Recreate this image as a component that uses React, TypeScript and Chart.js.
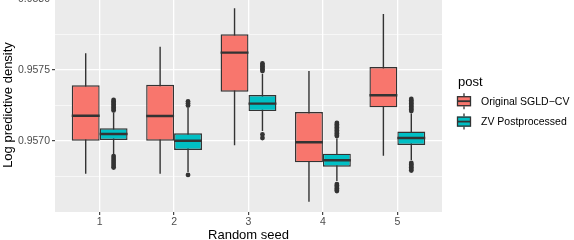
import { useEffect, useRef } from 'react';
import { Chart, registerables } from 'chart.js';

Chart.register(...registerables);

const FONT = "'Liberation Sans', Arial, Helvetica, sans-serif";

// Random seeds on the x axis
const seeds = [1, 2, 3, 4, 5];

const seriesNames = ['Original SGLD\u2212CV', 'ZV Postprocessed'];
const seriesColors = ['#F8766D', '#00BFC4'];

// Original SGLD-CV: whisker ends, quartiles and medians
const sgldLower = [0.95677, 0.95677, 0.95697, 0.956573, 0.956896];
const sgldQ1 = [0.957002, 0.957002, 0.957347, 0.95685, 0.957237];
const sgldMedian = [0.957178, 0.957176, 0.957622, 0.956991, 0.957322];
const sgldQ3 = [0.957392, 0.957396, 0.957751, 0.957204, 0.957521];
const sgldUpper = [0.957618, 0.957664, 0.957934, 0.957493, 0.957894];
const sgldOutliers: number[][] = [[], [], [], [], []];

// ZV postprocessed: whisker ends, quartiles and medians
const zvLower = [0.956901, 0.956782, 0.95707, 0.956718, 0.956866];
const zvQ1 = [0.957007, 0.956937, 0.957211, 0.956819, 0.956972];
const zvMedian = [0.957049, 0.957002, 0.957263, 0.956864, 0.957021];
const zvQ3 = [0.957089, 0.957054, 0.957324, 0.956911, 0.957067];
const zvUpper = [0.9572, 0.957232, 0.957472, 0.957018, 0.957194];
const zvOutliers: number[][] = [
  [0.957289, 0.957278, 0.957268, 0.957257, 0.957246, 0.957236, 0.957225, 0.957215,
    0.956894, 0.95688, 0.956866, 0.956852, 0.956838, 0.956824, 0.956813],
  [0.957278, 0.957264, 0.95725, 0.956761],
  [0.957546, 0.957535, 0.957525, 0.957514, 0.957504, 0.957493, 0.957046, 0.957021],
  [0.957127, 0.957116, 0.957106, 0.957095, 0.957085, 0.957074, 0.957063, 0.957053, 0.957042, 0.957035,
    0.956697, 0.956687, 0.956676, 0.956666, 0.956655, 0.956648],
  [0.957296, 0.957285, 0.957275, 0.957264, 0.957254, 0.957243, 0.957232, 0.957222, 0.957211,
    0.956845, 0.956835, 0.956824, 0.956813, 0.956803, 0.956792],
];

// Axis breaks
const yBreaks = [0.95675, 0.957, 0.95725, 0.9575, 0.95775, 0.958];
const yMajorBreaks = [0.957, 0.9575, 0.958];
const yMin = 0.9565;
const yMax = 0.958007;
const xMin = 0.4;
const xMax = 5.6;

const DODGE = 0.1875;
const HALF_BOX = 0.1875;
const OUTLINE = '#333333';

const isMajor = (v: number) => yMajorBreaks.some((m) => Math.abs(m - v) < 1e-9);

const series = [
  { name: seriesNames[0], color: seriesColors[0], lower: sgldLower, q1: sgldQ1, med: sgldMedian, q3: sgldQ3, upper: sgldUpper, outliers: sgldOutliers, shift: -DODGE },
  { name: seriesNames[1], color: seriesColors[1], lower: zvLower, q1: zvQ1, med: zvMedian, q3: zvQ3, upper: zvUpper, outliers: zvOutliers, shift: DODGE },
];

const panelBackground = {
  id: 'panelBackground',
  beforeDraw(chart: any) {
    const { ctx, chartArea } = chart;
    ctx.save();
    ctx.fillStyle = '#EBEBEB';
    ctx.fillRect(chartArea.left, chartArea.top, chartArea.right - chartArea.left, chartArea.bottom - chartArea.top);
    ctx.restore();
  },
};

const boxLegend = {
  id: 'boxLegend',
  afterDraw(chart: any) {
    const { ctx, chartArea } = chart;
    const x0 = chartArea.right + 15;
    const midY = (chartArea.top + chartArea.bottom) / 2;
    ctx.save();
    ctx.fillStyle = '#000';
    ctx.textAlign = 'left';
    ctx.textBaseline = 'alphabetic';
    ctx.font = `13px ${FONT}`;
    ctx.fillText('post', x0 + 1, midY - 19);
    series.forEach((s, i) => {
      const cy = midY - 3.8 + i * 20.4;
      const cx = x0 + 7;
      ctx.strokeStyle = OUTLINE;
      ctx.lineWidth = 1.3;
      ctx.beginPath();
      ctx.moveTo(cx, cy - 8);
      ctx.lineTo(cx, cy - 5);
      ctx.moveTo(cx, cy + 5);
      ctx.lineTo(cx, cy + 8);
      ctx.stroke();
      ctx.fillStyle = s.color;
      ctx.fillRect(x0, cy - 5, 14, 10);
      ctx.strokeRect(x0 + 0.5, cy - 4.5, 13, 9);
      ctx.lineWidth = 1.8;
      ctx.beginPath();
      ctx.moveTo(x0, cy);
      ctx.lineTo(x0 + 14, cy);
      ctx.stroke();
      ctx.fillStyle = '#000';
      ctx.font = `10.5px ${FONT}`;
      ctx.fillText(s.name, x0 + 24, cy + 3.8);
    });
    ctx.restore();
  },
};

export default function App() {
  const canvasRef = useRef<HTMLCanvasElement | null>(null);

  useEffect(() => {
    if (!canvasRef.current) return;

    const datasets: any[] = [];
    series.forEach((s) => {
      datasets.push({
        type: 'line',
        label: s.name + ' whiskers',
        data: seeds.flatMap((x, i) => [
          { x: x + s.shift, y: s.lower[i] },
          { x: x + s.shift, y: s.upper[i] },
          { x: x + s.shift, y: null },
        ]),
        borderColor: OUTLINE,
        borderWidth: 1.4,
        pointRadius: 0,
        spanGaps: false,
        fill: false,
        order: 3,
      });
    });
    series.forEach((s) => {
      datasets.push({
        type: 'bar',
        label: s.name,
        data: seeds.map((x, i) => ({ x, y: [s.q1[i], s.q3[i]] })),
        backgroundColor: s.color,
        borderColor: OUTLINE,
        borderWidth: 1.4,
        borderSkipped: false,
        barPercentage: 1,
        categoryPercentage: 0.75,
        order: 2,
      });
    });
    series.forEach((s) => {
      datasets.push({
        type: 'line',
        label: s.name + ' median',
        data: seeds.flatMap((x, i) => [
          { x: x + s.shift - HALF_BOX, y: s.med[i] },
          { x: x + s.shift + HALF_BOX, y: s.med[i] },
          { x: x + s.shift + HALF_BOX, y: null },
        ]),
        borderColor: OUTLINE,
        borderWidth: 2.4,
        pointRadius: 0,
        spanGaps: false,
        fill: false,
        order: 1,
      });
    });
    series.forEach((s) => {
      datasets.push({
        type: 'scatter',
        label: s.name + ' outliers',
        data: seeds.flatMap((x, i) => s.outliers[i].map((v) => ({ x: x + s.shift, y: v }))),
        backgroundColor: OUTLINE,
        borderWidth: 0,
        pointRadius: 2.4,
        order: 0,
      });
    });

    const chart = new Chart(canvasRef.current, {
      type: 'bar',
      data: { datasets },
      plugins: [panelBackground, boxLegend],
      options: {
        animation: false,
        responsive: false,
        events: [],
        layout: { padding: { top: 20, right: 132, left: 0, bottom: 0 } },
        plugins: { legend: { display: false }, tooltip: { enabled: false } },
        scales: {
          x: {
            type: 'linear',
            min: xMin,
            max: xMax,
            offset: false,
            afterBuildTicks: (scale: any) => {
              scale.ticks = seeds.map((v) => ({ value: v }));
            },
            afterFit: (scale: any) => {
              scale.height = 30;
            },
            grid: {
              offset: false,
              color: '#FFFFFF',
              lineWidth: 1.3,
              tickLength: 3,
              tickColor: OUTLINE,
              tickWidth: 1.1,
            },
            border: { display: false },
            ticks: {
              color: '#4D4D4D',
              font: { size: 10.5, family: FONT },
              padding: 1,
              autoSkip: false,
              maxRotation: 0,
              callback: (v: any) => String(v),
            },
            title: {
              display: true,
              text: 'Random seed',
              color: '#000000',
              font: { size: 13, family: FONT, lineHeight: 1 },
              padding: { top: 0, bottom: 0.5 },
            },
          },
          y: {
            type: 'linear',
            min: yMin,
            max: yMax,
            afterBuildTicks: (scale: any) => {
              scale.ticks = yBreaks.map((v) => ({ value: v }));
            },
            afterFit: (scale: any) => {
              scale.width = 55;
            },
            grid: {
              color: '#FFFFFF',
              lineWidth: (c: any) => (isMajor(c.tick.value) ? 1.3 : 0.6),
              tickLength: 3,
              tickColor: (c: any) => (isMajor(c.tick.value) ? OUTLINE : 'rgba(0,0,0,0)'),
              tickWidth: 1.1,
            },
            border: { display: false },
            ticks: {
              color: '#4D4D4D',
              font: { size: 10.5, family: FONT },
              padding: 2,
              autoSkip: false,
              callback: (v: any) => (isMajor(Number(v)) ? Number(v).toFixed(4) : ''),
            },
            title: {
              display: true,
              text: 'Log predictive density',
              color: '#000000',
              font: { size: 13, family: FONT, lineHeight: 1 },
              padding: { top: 1.5, bottom: 0 },
            },
          },
        },
      } as any,
    });

    return () => chart.destroy();
  }, []);

  return (
    <div style={{ position: 'fixed', top: 0, left: 0, width: 574, height: 240, overflow: 'hidden', background: '#FFFFFF' }}>
      <canvas
        ref={canvasRef}
        width={574}
        height={264}
        style={{ position: 'absolute', top: -22, left: 0, width: 574, height: 264 }}
      />
    </div>
  );
}
